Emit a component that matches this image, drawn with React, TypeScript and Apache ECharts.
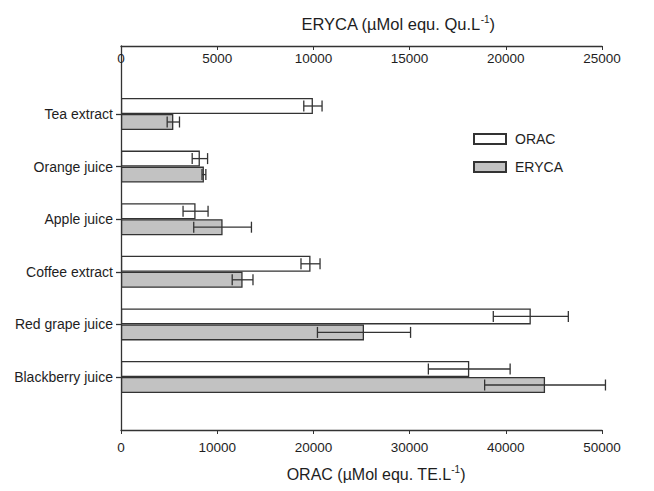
import React, { useEffect, useRef } from "react";
import * as echarts from "echarts";

const categories = [
  "Tea extract",
  "Orange juice",
  "Apple juice",
  "Coffee extract",
  "Red grape juice",
  "Blackberry juice",
];
const oracValues = [19950, 8200, 7750, 19700, 42600, 36200];
const oracErrors = [950, 800, 1300, 990, 3900, 4250];
const erycaValues = [2720, 4310, 5280, 6320, 12630, 22040];
const erycaErrors = [320, 100, 1500, 540, 2420, 3140];
const oracTicks = { min: 0, max: 50000, interval: 10000 };
const erycaTicks = { min: 0, max: 25000, interval: 5000 };

const TEXT = "#1e1e1e";
const LINE = "#333333";
const GRAY = "#c2c2c2";
const FONT = "Liberation Sans, Arial, sans-serif";

function errorSeries(name: string, xAxisIndex: number, values: number[], errors: number[], dy: number) {
  return {
    type: "custom",
    name: name + "-err",
    xAxisIndex,
    yAxisIndex: 1,
    silent: true,
    z: 5,
    data: values.map((v, i) => [i, v, errors[i]]),
    renderItem: (params: any, api: any) => {
      const cat = api.value(0);
      const v = api.value(1);
      const e = api.value(2);
      const lo = api.coord([v - e, cat]);
      const hi = api.coord([v + e, cat]);
      const y = lo[1] + dy;
      const cap = 5.5;
      const style = { stroke: LINE, lineWidth: 1.3 };
      return {
        type: "group",
        children: [
          { type: "line", shape: { x1: lo[0], y1: y, x2: hi[0], y2: y }, style },
          { type: "line", shape: { x1: lo[0], y1: y - cap, x2: lo[0], y2: y + cap }, style },
          { type: "line", shape: { x1: hi[0], y1: y - cap, x2: hi[0], y2: y + cap }, style },
        ],
      };
    },
  };
}

export default function App() {
  const ref = useRef<HTMLDivElement>(null);
  useEffect(() => {
    document.body.style.margin = "0";
    if (!ref.current) return;
    const chart = echarts.init(ref.current, undefined, { renderer: "svg" });
    const axisLine = { show: true, lineStyle: { color: LINE, width: 1.3 } };
    const labelStyle = {
      color: TEXT,
      fontSize: 13.5,
      fontFamily: FONT,
      formatter: (v: number) => String(v),
    };
    chart.setOption({
      animation: false,
      backgroundColor: "#ffffff",
      textStyle: { fontFamily: FONT },
      grid: [
        { left: 121, right: 52, top: 46, bottom: 61 },
        { left: 121, right: 52, top: 87.7, bottom: 87.7 },
      ],
      xAxis: [
        {
          gridIndex: 0,
          type: "value",
          position: "bottom",
          ...oracTicks,
          axisLine,
          axisTick: { show: true, inside: false, length: 4, lineStyle: { color: LINE } },
          axisLabel: { ...labelStyle, margin: 10 },
          splitLine: { show: false },
        },
        {
          gridIndex: 0,
          type: "value",
          position: "top",
          ...erycaTicks,
          axisLine,
          axisTick: { show: true, inside: true, length: 4, lineStyle: { color: LINE } },
          axisLabel: { ...labelStyle, inside: true, margin: 5 },
          splitLine: { show: false },
        },
        {
          gridIndex: 1,
          type: "value",
          ...oracTicks,
          show: false,
          splitLine: { show: false },
        },
        {
          gridIndex: 1,
          type: "value",
          ...erycaTicks,
          show: false,
          splitLine: { show: false },
        },
      ],
      yAxis: [
        {
          gridIndex: 0,
          type: "value",
          min: 0,
          max: 1,
          axisLine,
          axisTick: { show: false },
          axisLabel: { show: false },
          splitLine: { show: false },
        },
        {
          gridIndex: 1,
          type: "category",
          inverse: true,
          data: categories,
          axisLine: { show: false },
          axisTick: { show: true, alignWithLabel: true, length: 5, lineStyle: { color: LINE, width: 1.3 } },
          axisLabel: { color: TEXT, fontSize: 14, fontFamily: FONT, margin: 8 },
          splitLine: { show: false },
        },
      ],
      legend: {
        orient: "vertical",
        left: 473,
        top: 132,
        padding: 0,
        itemWidth: 32,
        itemHeight: 10,
        itemGap: 14,
        icon: "rect",
        data: ["ORAC", "ERYCA"],
        textStyle: { color: TEXT, fontSize: 14, fontFamily: FONT, padding: [0, 0, 0, 4] },
      },
      graphic: [
        {
          type: "text",
          x: 398,
          y: 24,
          style: {
            text: "{a|ERYCA (µMol equ. Qu.L}{s|-1}{a|)}",
            align: "center",
            verticalAlign: "middle",
            fill: TEXT,
            rich: {
              a: { fontSize: 16.5, lineHeight: 20, fontFamily: FONT, fill: TEXT },
              s: { fontSize: 10, lineHeight: 11, verticalAlign: "top", fontFamily: FONT, fill: TEXT },
            },
          },
        },
        {
          type: "text",
          x: 376,
          y: 474,
          style: {
            text: "{a|ORAC (µMol equ. TE.L}{s|-1}{a|)}",
            align: "center",
            verticalAlign: "middle",
            fill: TEXT,
            rich: {
              a: { fontSize: 16, lineHeight: 20, fontFamily: FONT, fill: TEXT },
              s: { fontSize: 10, lineHeight: 11, verticalAlign: "top", fontFamily: FONT, fill: TEXT },
            },
          },
        },
      ],
      series: [
        {
          type: "bar",
          name: "ORAC",
          xAxisIndex: 2,
          yAxisIndex: 1,
          barWidth: 16,
          barGap: "0%",
          data: oracValues,
          itemStyle: { color: "#ffffff", borderColor: LINE, borderWidth: 1.3 },
        },
        {
          type: "bar",
          name: "ERYCA",
          xAxisIndex: 3,
          yAxisIndex: 1,
          barWidth: 16,
          barGap: "0%",
          data: erycaValues,
          itemStyle: { color: GRAY, borderColor: LINE, borderWidth: 1.3 },
        },
        errorSeries("ORAC", 2, oracValues, oracErrors, -8),
        errorSeries("ERYCA", 3, erycaValues, erycaErrors, 8),
      ],
    });
    return () => chart.dispose();
  }, []);
  return <div ref={ref} style={{ width: 654, height: 491 }} />;
}
